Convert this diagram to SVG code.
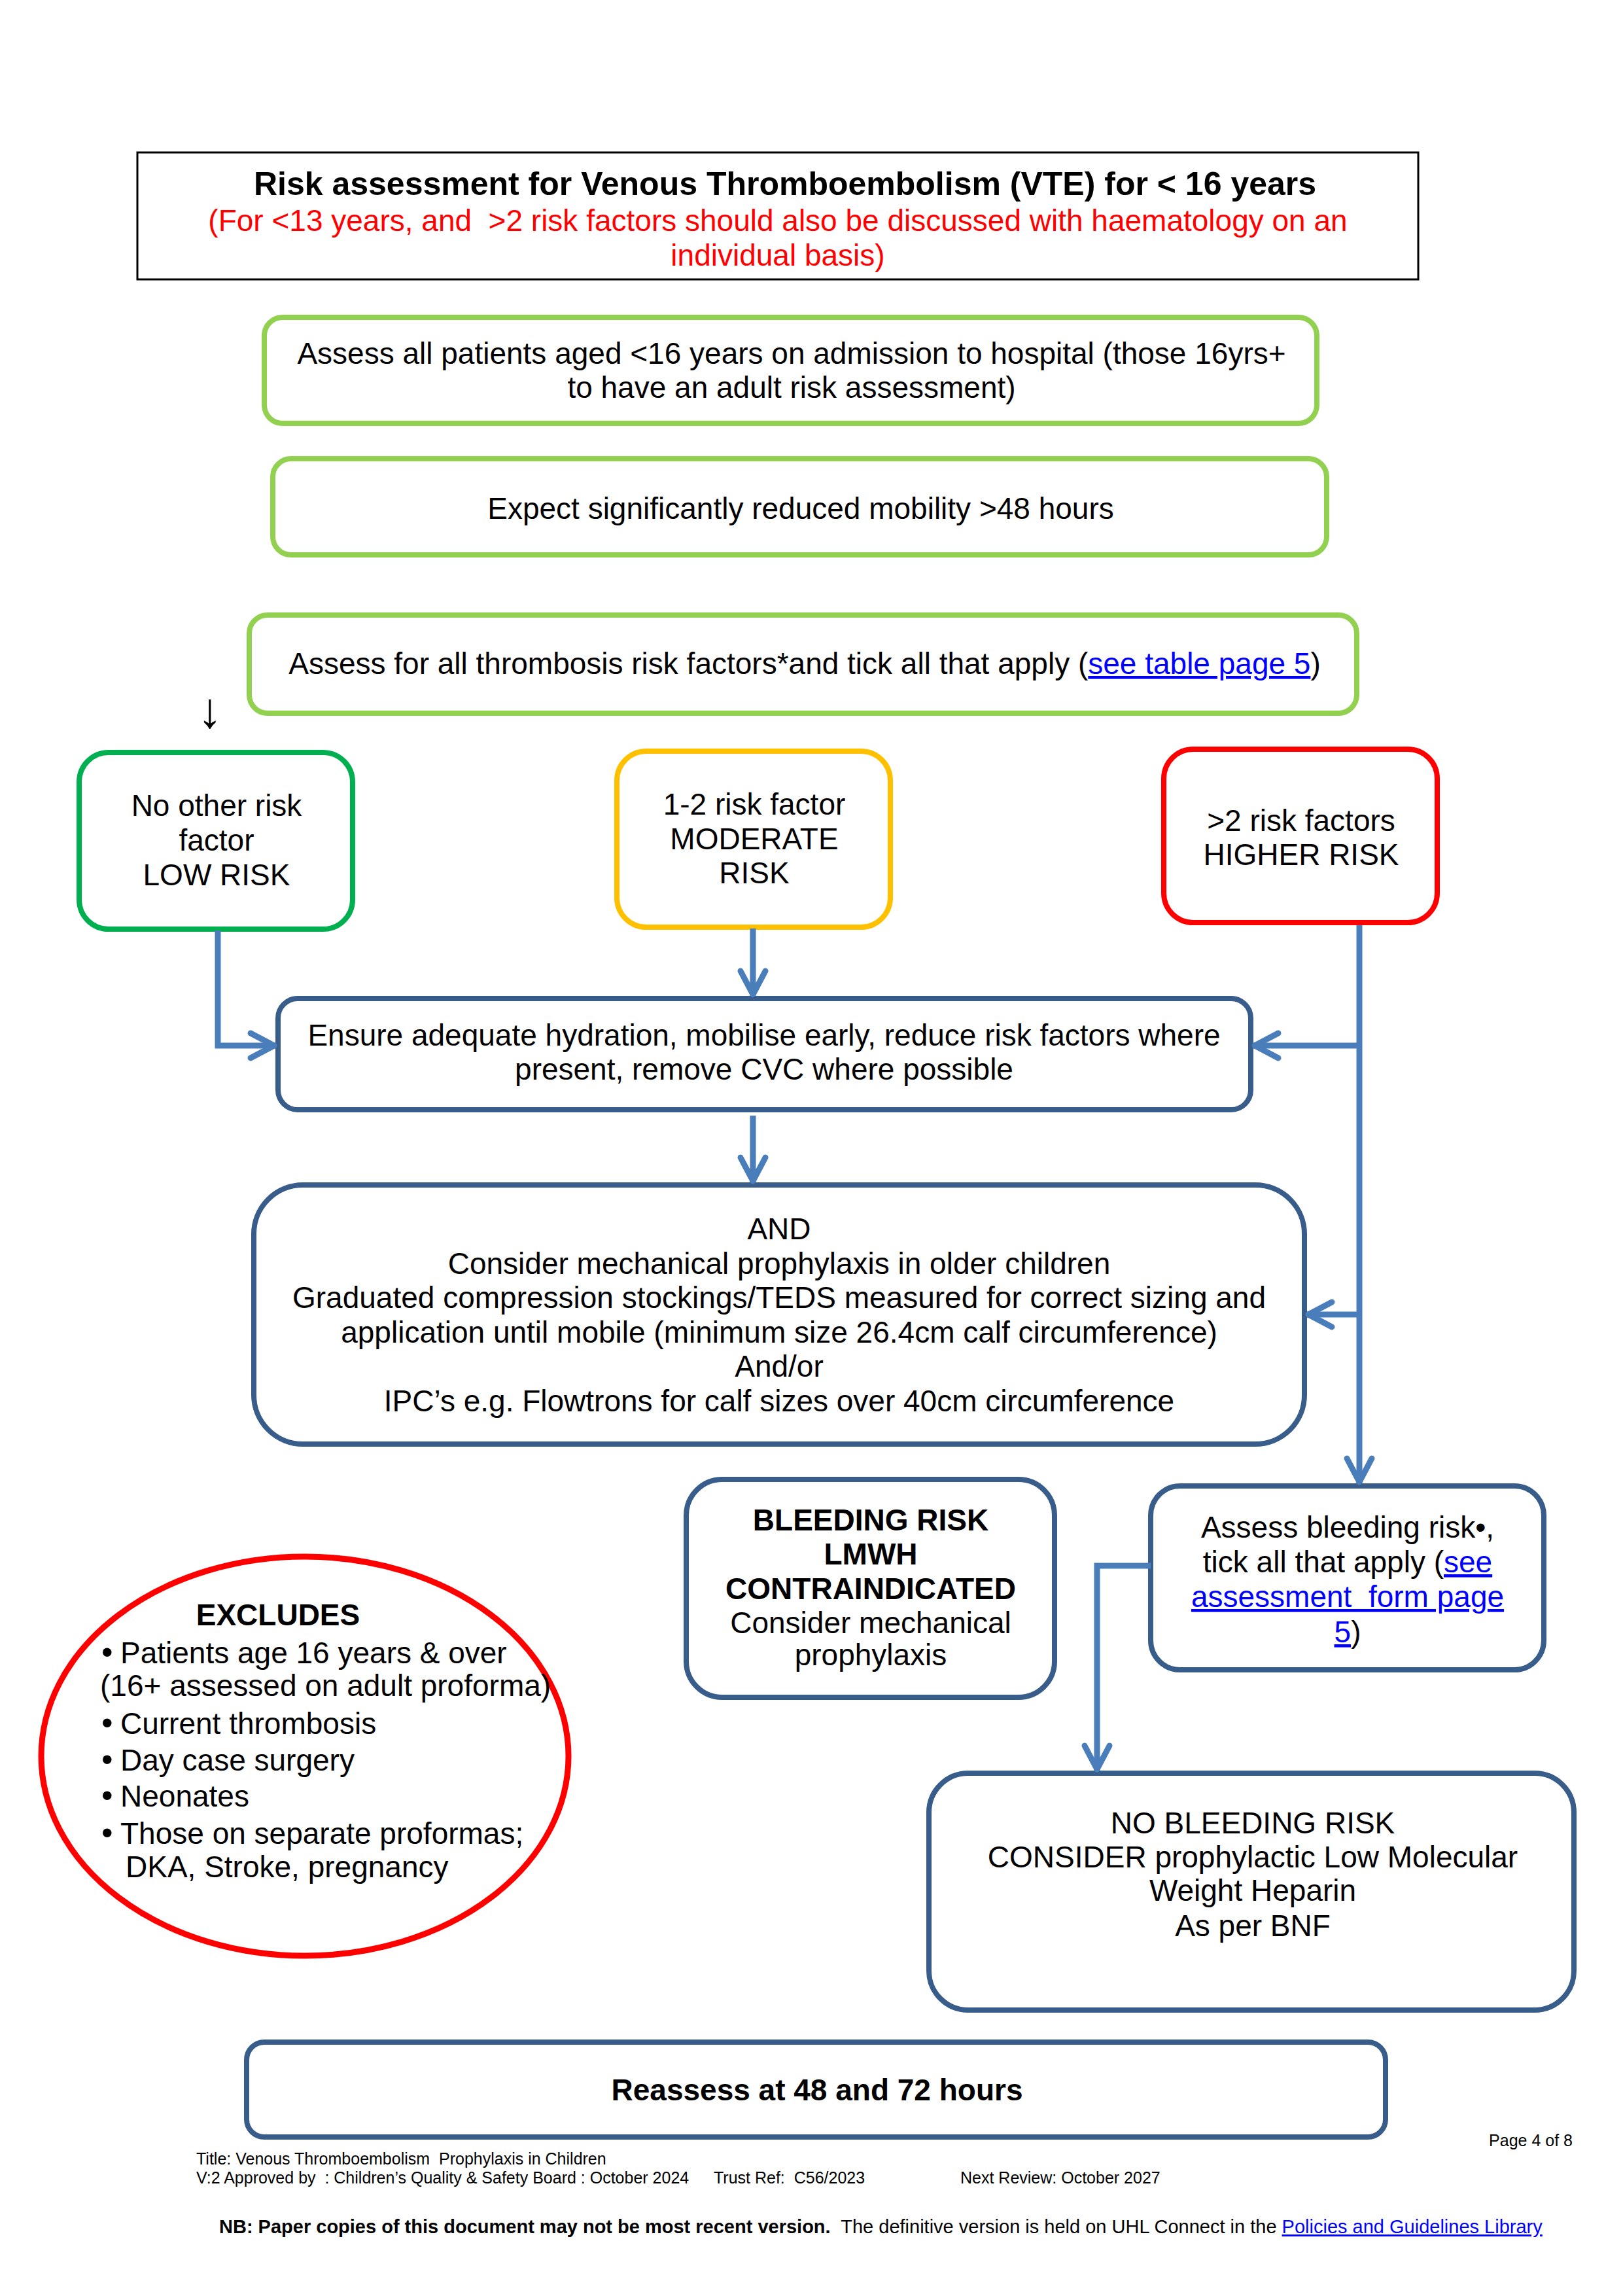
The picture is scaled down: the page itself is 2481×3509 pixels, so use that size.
<svg xmlns="http://www.w3.org/2000/svg" width="2481" height="3509" viewBox="0 0 2481 3509">
<style>
text{font-family:'Liberation Sans',Arial,sans-serif;font-size:46px;fill:#000}
.c{text-anchor:middle}
.b{font-weight:bold}
.red{fill:#FF0000}
.lnk{fill:#0000FF;text-decoration:underline}
.lg{fill:#fff;stroke:#92D050;stroke-width:8}
.dg{fill:#fff;stroke:#00B050;stroke-width:8}
.am{fill:#fff;stroke:#FFC000;stroke-width:8}
.rd{fill:#fff;stroke:#FF0000;stroke-width:8}
.bl{fill:#fff;stroke:#385D8A;stroke-width:8}
.con{fill:none;stroke:#4A7EBB;stroke-width:9}
.ft{font-size:25px}
.bu{font-size:50px}
</style>
<defs>
<marker id="ah" markerUnits="userSpaceOnUse" viewBox="-50 -30 60 60" markerWidth="60" markerHeight="60" refX="0" refY="0" orient="auto" overflow="visible">
<path d="M-38,-19 L-2,0 L-38,19" fill="none" stroke="#4A7EBB" stroke-width="9" stroke-linecap="round" stroke-linejoin="round"/>
</marker>
</defs>
<rect width="2481" height="3509" fill="#fff"/>

<g id="title">
<rect x="210" y="233" width="1958" height="194" fill="#fff" stroke="#000" stroke-width="3"/>
<text class="c b" x="1200" y="298" style="font-size:50px">Risk assessment for Venous Thromboembolism (VTE) for &lt; 16 years</text>
<text class="c red" x="1189" y="353" xml:space="preserve">(For &lt;13 years, and  &gt;2 risk factors should also be discussed with haematology on an</text>
<text class="c red" x="1189" y="406">individual basis)</text>
</g>

<g id="assess-all">
<rect class="lg" x="404" y="485" width="1609" height="162" rx="28"/>
<text class="c" x="1210" y="556">Assess all patients aged &lt;16 years on admission to hospital (those 16yrs+</text>
<text class="c" x="1210" y="608">to have an adult risk assessment)</text>
</g>

<g id="mobility">
<rect class="lg" x="417" y="701" width="1611" height="147" rx="28"/>
<text class="c" x="1224" y="793">Expect significantly reduced mobility &gt;48 hours</text>
</g>

<g id="risk-factors">
<rect class="lg" x="381" y="940" width="1693" height="150" rx="28"/>
<text class="c" x="1230" y="1030">Assess for all thrombosis risk factors*and tick all that apply (<tspan class="lnk">see table page 5</tspan>)</text>
</g>

<g id="stray-arrow">
<text class="c" x="321" y="1112" style="font-size:76px">↓</text>
</g>

<g id="low-risk">
<rect class="dg" x="121" y="1150" width="418" height="270" rx="45"/>
<text class="c" x="331" y="1247">No other risk</text>
<text class="c" x="331" y="1300">factor</text>
<text class="c" x="331" y="1353">LOW RISK</text>
</g>

<g id="moderate-risk">
<rect class="am" x="943" y="1148" width="418" height="269" rx="45"/>
<text class="c" x="1153" y="1245">1-2 risk factor</text>
<text class="c" x="1153" y="1298">MODERATE</text>
<text class="c" x="1153" y="1350">RISK</text>
</g>

<g id="higher-risk">
<rect class="rd" x="1779" y="1145" width="418" height="265" rx="45"/>
<text class="c" x="1989" y="1270">&gt;2 risk factors</text>
<text class="c" x="1989" y="1322">HIGHER RISK</text>
</g>

<g id="hydration">
<rect class="bl" x="425" y="1526" width="1487" height="170" rx="30"/>
<text class="c" x="1168" y="1598">Ensure adequate hydration, mobilise early, reduce risk factors where</text>
<text class="c" x="1168" y="1650">present, remove CVC where possible</text>
</g>

<g id="mechanical">
<rect class="bl" x="388" y="1811" width="1606" height="396" rx="75"/>
<text class="c" x="1191" y="1894">AND</text>
<text class="c" x="1191" y="1947">Consider mechanical prophylaxis in older children</text>
<text class="c" x="1191" y="1999">Graduated compression stockings/TEDS measured for correct sizing and</text>
<text class="c" x="1191" y="2052">application until mobile (minimum size 26.4cm calf circumference)</text>
<text class="c" x="1191" y="2104">And/or</text>
<text class="c" x="1191" y="2157">IPC’s e.g. Flowtrons for calf sizes over 40cm circumference</text>
</g>

<g id="bleeding-risk">
<rect class="bl" x="1049" y="2261" width="563" height="333" rx="55"/>
<text class="c b" x="1331" y="2339">BLEEDING RISK</text>
<text class="c b" x="1331" y="2391">LMWH</text>
<text class="c b" x="1331" y="2444">CONTRAINDICATED</text>
<text class="c" x="1331" y="2496">Consider mechanical</text>
<text class="c" x="1331" y="2545">prophylaxis</text>
</g>

<g id="assess-bleeding">
<rect class="bl" x="1759" y="2271" width="601" height="281" rx="45"/>
<text class="c" x="2060" y="2350">Assess bleeding risk•,</text>
<text class="c" x="2060" y="2403">tick all that apply (<tspan class="lnk">see</tspan></text>
<text class="c lnk" x="2060" y="2456" xml:space="preserve">assessment  form page</text>
<text class="c" x="2060" y="2510"><tspan class="lnk">5</tspan>)</text>
</g>

<g id="no-bleeding">
<rect class="bl" x="1420" y="2710" width="986" height="362" rx="60"/>
<text class="c" x="1915" y="2802">NO BLEEDING RISK</text>
<text class="c" x="1915" y="2854">CONSIDER prophylactic Low Molecular</text>
<text class="c" x="1915" y="2905">Weight Heparin</text>
<text class="c" x="1915" y="2959">As per BNF</text>
</g>

<g id="excludes">
<ellipse cx="466" cy="2684" rx="403" ry="305" fill="#fff" stroke="#FF0000" stroke-width="9"/>
<text class="c b" x="425" y="2484">EXCLUDES</text>
<text x="155" y="2542"><tspan class="bu">•</tspan><tspan x="184">Patients age 16 years &amp; over</tspan></text>
<text x="153" y="2592">(16+ assessed on adult proforma)</text>
<text x="155" y="2650"><tspan class="bu">•</tspan><tspan x="184">Current thrombosis</tspan></text>
<text x="155" y="2706"><tspan class="bu">•</tspan><tspan x="184">Day case surgery</tspan></text>
<text x="155" y="2761"><tspan class="bu">•</tspan><tspan x="184">Neonates</tspan></text>
<text x="155" y="2818"><tspan class="bu">•</tspan><tspan x="184">Those on separate proformas;</tspan></text>
<text x="192" y="2869">DKA, Stroke, pregnancy</text>
</g>

<g id="reassess">
<rect class="bl" x="377" y="3121" width="1741" height="145" rx="27"/>
<text class="c b" x="1249" y="3210">Reassess at 48 and 72 hours</text>
</g>

<g id="connectors">
<path class="con" d="M333,1422 V1598 H421" marker-end="url(#ah)"/>
<path class="con" d="M1151,1419 V1522" marker-end="url(#ah)"/>
<path class="con" d="M2078,1414 V2267" marker-end="url(#ah)"/>
<path class="con" d="M2078,1598 H1916" marker-end="url(#ah)"/>
<path class="con" d="M2078,2009 H1998" marker-end="url(#ah)"/>
<path class="con" d="M1151,1705 V1807" marker-end="url(#ah)"/>
<path class="con" d="M1759,2393 H1677 V2706" marker-end="url(#ah)" style="stroke-linejoin:miter"/>
</g>

<g id="footer">
<text class="ft" x="2404" y="3280" text-anchor="end">Page 4 of 8</text>
<text class="ft" x="300" y="3308" xml:space="preserve">Title: Venous Thromboembolism  Prophylaxis in Children</text>
<text class="ft" y="3337" xml:space="preserve"><tspan x="300">V:2 Approved by  : Children’s Quality &amp; Safety Board : October 2024</tspan><tspan x="1091">Trust Ref:  C56/2023</tspan><tspan x="1468">Next Review: October 2027</tspan></text>
<text x="335" y="3413" style="font-size:29px" xml:space="preserve"><tspan class="b">NB: Paper copies of this document may not be most recent version.</tspan>  The definitive version is held on UHL Connect in the <tspan class="lnk">Policies and Guidelines Library</tspan></text>
</g>
</svg>
